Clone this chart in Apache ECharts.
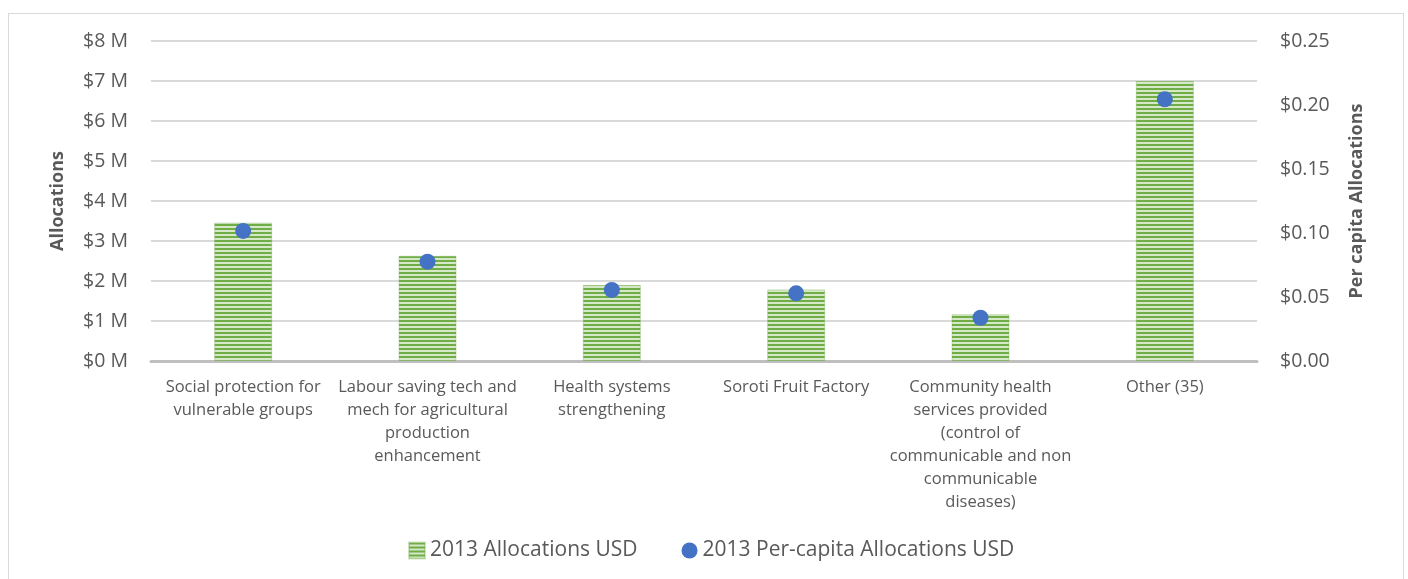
<!DOCTYPE html>
<html>
<head>
<meta charset="utf-8">
<script src="https://cdn.jsdelivr.net/npm/echarts@6/dist/echarts.min.js"></script>
<style>
  html, body { margin: 0; padding: 0; background: #fff; }
  #frame {
    position: absolute; left: 8px; top: 13px; width: 1396px; height: 600px;
    border: 1px solid #d9d9d9; box-sizing: border-box;
  }
  #chart { position: absolute; left: 0; top: 0; width: 1408px; height: 579px; }
</style>
</head>
<body>
<div id="frame"></div>
<div id="chart"></div>
<script>
const categories = [
  'Social protection for\nvulnerable groups',
  'Labour saving tech and\nmech for agricultural\nproduction\nenhancement',
  'Health systems\nstrengthening',
  'Soroti Fruit Factory',
  'Community health\nservices provided\n(control of\ncommunicable and non\ncommunicable\ndiseases)',
  'Other (35)'
];
// millions of USD
const allocations = [3.46, 2.63, 1.90, 1.79, 1.17, 7.00];
const perCapita = [0.1016, 0.0776, 0.0555, 0.0529, 0.0338, 0.2045];
const leftTicks = { min: 0, max: 8, interval: 1 };
const rightTicks = { min: 0, max: 0.25, interval: 0.05 };

const textColor = '#595959';
const font = '"Open Sans", sans-serif';

// horizontal stripe fill like the excel pattern
const makeStripes = () => {
  const c = document.createElement('canvas');
  c.width = 4;
  c.height = 4;
  const ctx = c.getContext('2d');
  ctx.fillStyle = '#d5e8c8';
  ctx.fillRect(0, 0, 4, 4);
  ctx.fillStyle = '#70ad47';
  ctx.fillRect(0, 0, 4, 2);
  return c;
};

const chart = echarts.init(document.getElementById('chart'));

chart.setOption({
  backgroundColor: 'transparent',
  textStyle: { fontFamily: font },
  grid: { left: 151, right: 151, top: 41, bottom: 218 },
  legend: {
    bottom: 13,
    left: 403,
    itemGap: 44,
    itemWidth: 16,
    itemHeight: 16,
    textStyle: { color: textColor, fontSize: 21, fontFamily: font },
    data: [
      { name: '2013 Allocations USD', icon: 'rect' },
      { name: '2013 Per-capita Allocations USD', icon: 'circle' }
    ]
  },
  xAxis: {
    type: 'category',
    data: categories,
    axisLine: { show: true, lineStyle: { color: '#bfbfbf', width: 3 } },
    axisTick: { show: false },
    axisLabel: {
      color: textColor,
      fontSize: 16.5,
      lineHeight: 23,
      margin: 15,
      interval: 0,
      fontFamily: font
    }
  },
  yAxis: [
    {
      type: 'value',
      min: leftTicks.min,
      max: leftTicks.max,
      interval: leftTicks.interval,
      name: 'Allocations',
      nameLocation: 'middle',
      nameRotate: 90,
      nameGap: 84,
      nameTextStyle: { color: textColor, fontSize: 18, fontWeight: 'bold', fontFamily: font },
      axisLine: { show: false },
      axisTick: { show: false },
      axisLabel: {
        color: textColor,
        fontSize: 19.5,
        margin: 23,
        formatter: (v) => '$' + v + ' M'
      },
      splitLine: { lineStyle: { color: '#d9d9d9', width: 2 } }
    },
    {
      type: 'value',
      position: 'right',
      min: rightTicks.min,
      max: rightTicks.max,
      interval: rightTicks.interval,
      name: 'Per capita Allocations',
      nameLocation: 'middle',
      nameRotate: 90,
      nameGap: 91,
      nameTextStyle: { color: textColor, fontSize: 18, fontWeight: 'bold', fontFamily: font },
      axisLine: { show: false },
      axisTick: { show: false },
      axisLabel: {
        color: textColor,
        fontSize: 19.5,
        margin: 23,
        formatter: (v) => '$' + v.toFixed(2)
      },
      splitLine: { show: false }
    }
  ],
  series: [
    {
      name: '2013 Allocations USD',
      type: 'bar',
      yAxisIndex: 0,
      data: allocations,
      barWidth: 58,
      itemStyle: {
        color: { image: makeStripes(), repeat: 'repeat' },
        borderColor: 'rgba(112,173,71,0.35)',
        borderWidth: 1
      },
      emphasis: { disabled: true }
    },
    {
      name: '2013 Per-capita Allocations USD',
      type: 'scatter',
      yAxisIndex: 1,
      data: perCapita,
      symbol: 'circle',
      symbolSize: 16,
      itemStyle: { color: '#4472c4', opacity: 1 },
      z: 5
    }
  ]
});
</script>
</body>
</html>
